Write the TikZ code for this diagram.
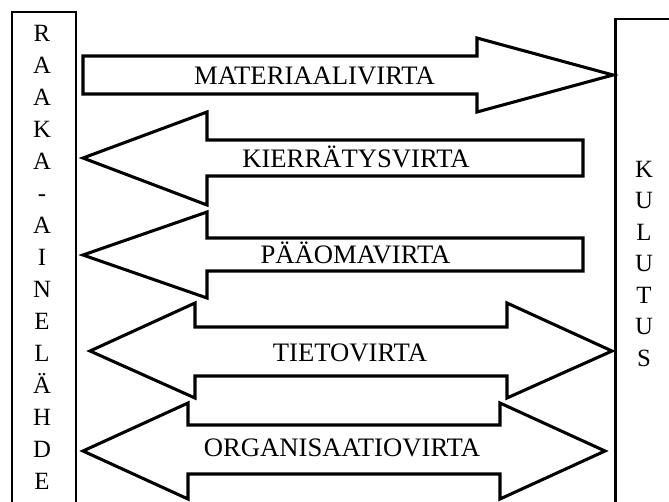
\documentclass[tikz,border=0pt]{standalone}
\usepackage{fontspec}
\setmainfont{Liberation Serif}
\begin{document}
\begin{tikzpicture}[x=0.75pt,y=-0.75pt,
  frame/.style={draw, line width=2.1pt},
  flow/.style={draw, line width=2.3pt, line join=miter, fill=white},
  flowlabel/.style={font=\fontsize{20}{22}\selectfont, inner sep=0pt, anchor=base},
  letter/.style={font=\fontsize{18.6}{22}\selectfont, inner sep=0pt, anchor=base}]
\useasboundingbox (0,0) rectangle (669,501);
\clip (0,0) rectangle (669,501);
\fill[white] (0,0) rectangle (669,501);

% raw-material source column (left) and consumption column (right)
\draw[frame] (12,530) -- (12,12) -- (76,12) -- (76,530);
\draw[frame] (615.5,530) -- (615.5,19) -- (700,19);

\foreach \l [count=\i] in {R,A,A,K,A,-,A,I,N,E,L,Ä,H,D,E}
  \node[letter] (src\i) at (42,{41+32*(\i-1)}) {\l};
\foreach \l [count=\i] in {K,U,L,U,T,U,S}
  \node[letter] (use\i) at (644,{177+31.5*(\i-1)}) {\l};

% material flow (to the right)
\draw[flow] (83,56) -- (477,56) -- (477,38) -- (613,75) -- (477,112)
  -- (477,94) -- (83,94) -- cycle;
% recycling flow (to the left)
\draw[flow] (583,140) -- (207,140) -- (207,112) -- (83,158) -- (207,205)
  -- (207,176) -- (583,176) -- cycle;
% capital flow (to the left)
\draw[flow] (583,238) -- (207,238) -- (207,212) -- (83,255) -- (207,298)
  -- (207,271) -- (583,271) -- cycle;
% information flow (both ways)
\draw[flow] (195,327) -- (507,327) -- (507,303) -- (612,351) -- (507,398)
  -- (507,376) -- (195,376) -- (195,398) -- (90,351) -- (195,303) -- cycle;
% organisation flow (both ways)
\draw[flow] (188,425) -- (500,425) -- (500,403) -- (605,451) -- (500,499)
  -- (500,474) -- (188,474) -- (188,499) -- (83,451) -- (188,403) -- cycle;

\node[flowlabel] (mat) at (314.5,84.7) {MATERIAALIVIRTA};
\node[flowlabel] (kier) at (356,167.7) {KIERRÄTYSVIRTA};
\node[flowlabel] (paa) at (355.5,263.7) {PÄÄOMAVIRTA};
\node[flowlabel] (tieto) at (350,361.7) {TIETOVIRTA};
\node[flowlabel] (org) at (342,456.7) {ORGANISAATIOVIRTA};
\end{tikzpicture}
\end{document}
